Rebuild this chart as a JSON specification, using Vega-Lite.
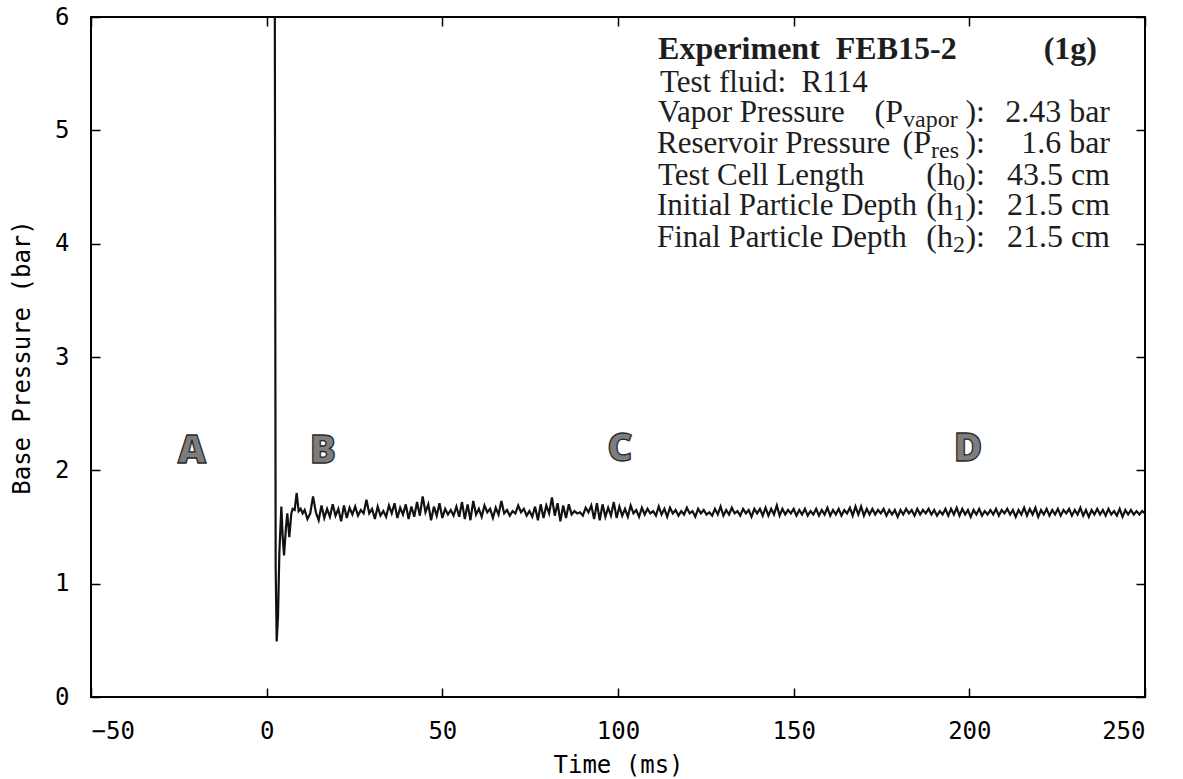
{
  "$schema": "https://vega.github.io/schema/vega-lite/v6.json",
  "width": 1054,
  "height": 680,
  "autosize": {"type": "none"},
  "padding": {"left": 91, "top": 17, "right": 38, "bottom": 82},
  "background": "white",
  "config": {
    "view": {"stroke": "black", "strokeWidth": 2},
    "axis": {
      "domain": false, "grid": false, "tickColor": "black", "tickWidth": 1.5, "tickSize": -9,
      "labelFont": "DejaVu Sans Mono", "labelFontSize": 24, "labelColor": "black", "labelPadding": 31,
      "titleFont": "DejaVu Sans Mono", "titleFontSize": 24, "titleFontWeight": "normal", "titleColor": "black"
    }
  },
  "resolve": {"axis": {"x": "independent", "y": "independent"}},
  "layer": [
    {
      "data": {"values": [
        {"t":2.30,"p":6.5},{"t":2.56,"p":1.15},{"t":2.85,"p":0.49},{"t":3.23,"p":0.71},{"t":3.61,"p":1.27},
        {"t":4.18,"p":1.68},{"t":4.56,"p":1.41},{"t":4.94,"p":1.25},{"t":5.50,"p":1.50},{"t":5.88,"p":1.62},
        {"t":6.45,"p":1.41},{"t":7.02,"p":1.62},{"t":7.40,"p":1.66},{"t":7.97,"p":1.65},{"t":8.54,"p":1.80},
        {"t":9.11,"p":1.64},{"t":9.68,"p":1.66},{"t":10.25,"p":1.62},{"t":10.82,"p":1.65},
        {"t":11.6,"p":1.57},{"t":12.4,"p":1.62},{"t":13.2,"p":1.77},{"t":14.0,"p":1.63},{"t":14.8,"p":1.56},{"t":15.6,"p":1.69},{"t":16.4,"p":1.58},{"t":17.2,"p":1.66},{"t":18.0,"p":1.59},{"t":18.8,"p":1.70},
        {"t":19.6,"p":1.60},{"t":20.4,"p":1.66},{"t":21.2,"p":1.55},{"t":22.0,"p":1.69},{"t":22.8,"p":1.58},{"t":23.6,"p":1.67},{"t":24.4,"p":1.61},{"t":25.2,"p":1.68},{"t":26.0,"p":1.60},{"t":26.8,"p":1.65},
        {"t":27.6,"p":1.62},{"t":28.4,"p":1.74},{"t":29.2,"p":1.62},{"t":30.0,"p":1.66},{"t":30.8,"p":1.57},{"t":31.6,"p":1.68},{"t":32.4,"p":1.60},{"t":33.2,"p":1.64},{"t":34.0,"p":1.59},{"t":34.8,"p":1.69},
        {"t":35.6,"p":1.62},{"t":36.4,"p":1.71},{"t":37.2,"p":1.58},{"t":38.0,"p":1.67},{"t":38.8,"p":1.61},{"t":39.6,"p":1.70},{"t":40.4,"p":1.57},{"t":41.2,"p":1.68},{"t":42.0,"p":1.59},{"t":42.8,"p":1.72},
        {"t":43.6,"p":1.60},{"t":44.4,"p":1.77},{"t":45.2,"p":1.63},{"t":46.0,"p":1.70},{"t":46.8,"p":1.56},{"t":47.6,"p":1.68},{"t":48.4,"p":1.60},{"t":49.2,"p":1.71},{"t":50.0,"p":1.58},
        {"t":50.8,"p":1.66},{"t":51.6,"p":1.61},{"t":52.4,"p":1.65},{"t":53.2,"p":1.60},{"t":54.0,"p":1.68},{"t":54.8,"p":1.59},{"t":55.6,"p":1.72},{"t":56.4,"p":1.57},{"t":57.2,"p":1.70},{"t":58.0,"p":1.56},
        {"t":58.8,"p":1.73},{"t":59.6,"p":1.61},{"t":60.4,"p":1.66},{"t":61.2,"p":1.59},{"t":62.0,"p":1.69},{"t":62.8,"p":1.63},{"t":63.6,"p":1.66},{"t":64.4,"p":1.58},{"t":65.2,"p":1.67},{"t":66.0,"p":1.61},
        {"t":66.8,"p":1.73},{"t":67.6,"p":1.62},{"t":68.4,"p":1.65},{"t":69.2,"p":1.60},{"t":70.0,"p":1.64},{"t":70.8,"p":1.62},{"t":71.6,"p":1.69},{"t":72.4,"p":1.63},{"t":73.2,"p":1.66},{"t":74.0,"p":1.60},
        {"t":74.8,"p":1.64},{"t":75.6,"p":1.59},{"t":76.4,"p":1.68},{"t":77.2,"p":1.56},{"t":78.0,"p":1.70},{"t":78.8,"p":1.58},{"t":79.6,"p":1.69},{"t":80.4,"p":1.62},{"t":81.2,"p":1.76},{"t":82.0,"p":1.60},
        {"t":82.8,"p":1.71},{"t":83.6,"p":1.55},{"t":84.4,"p":1.69},{"t":85.2,"p":1.58},{"t":86.0,"p":1.70},{"t":86.8,"p":1.61},{"t":87.6,"p":1.64},{"t":88.4,"p":1.62},{"t":89.2,"p":1.63},{"t":90.0,"p":1.60},
        {"t":90.8,"p":1.67},{"t":91.6,"p":1.63},{"t":92.4,"p":1.69},{"t":93.2,"p":1.57},{"t":94.0,"p":1.71},{"t":94.8,"p":1.56},{"t":95.6,"p":1.70},{"t":96.4,"p":1.59},{"t":97.2,"p":1.67},{"t":98.0,"p":1.60},
        {"t":98.8,"p":1.72},{"t":99.6,"p":1.58},{"t":100.4,"p":1.68},{"t":101.2,"p":1.60},{"t":102.0,"p":1.66},{"t":102.8,"p":1.59},{"t":103.6,"p":1.69},{"t":104.4,"p":1.62},{"t":105.2,"p":1.65},{"t":106.0,"p":1.59},
        {"t":106.8,"p":1.67},{"t":107.6,"p":1.61},{"t":108.4,"p":1.66},{"t":109.2,"p":1.62},{"t":110.0,"p":1.64},{"t":110.8,"p":1.60},{"t":111.6,"p":1.68},{"t":112.4,"p":1.61},{"t":113.2,"p":1.66},{"t":114.0,"p":1.59},
        {"t":114.8,"p":1.67},{"t":115.6,"p":1.62},{"t":116.4,"p":1.65},{"t":117.2,"p":1.60},{"t":118.0,"p":1.64},{"t":118.8,"p":1.61},{"t":119.6,"p":1.67},{"t":120.4,"p":1.62},{"t":121.2,"p":1.64},{"t":122.0,"p":1.59},
        {"t":122.8,"p":1.66},{"t":123.6,"p":1.62},{"t":124.4,"p":1.65},{"t":125.2,"p":1.61},{"t":126.0,"p":1.63},{"t":126.8,"p":1.60},{"t":127.6,"p":1.66},{"t":128.4,"p":1.61},{"t":129.2,"p":1.68},{"t":130.0,"p":1.60},
        {"t":130.8,"p":1.65},{"t":131.6,"p":1.61},{"t":132.4,"p":1.67},{"t":133.2,"p":1.62},{"t":134.0,"p":1.64},{"t":134.8,"p":1.60},{"t":135.6,"p":1.66},{"t":136.4,"p":1.62},{"t":137.2,"p":1.65},{"t":138.0,"p":1.59},
        {"t":138.8,"p":1.66},{"t":139.6,"p":1.62},
        {"t":140.4,"p":1.66},{"t":141.2,"p":1.60},{"t":142.0,"p":1.67},{"t":142.8,"p":1.60},{"t":143.6,"p":1.66},{"t":144.4,"p":1.61},{"t":145.2,"p":1.69},{"t":146.0,"p":1.60},{"t":146.8,"p":1.66},{"t":147.6,"p":1.61},
        {"t":148.4,"p":1.65},{"t":149.2,"p":1.62},{"t":150.0,"p":1.66},{"t":150.8,"p":1.60},{"t":151.6,"p":1.65},{"t":152.4,"p":1.61},{"t":153.2,"p":1.66},{"t":154.0,"p":1.60},{"t":154.8,"p":1.64},{"t":155.6,"p":1.61},
        {"t":156.4,"p":1.66},{"t":157.2,"p":1.60},{"t":158.0,"p":1.65},{"t":158.8,"p":1.61},{"t":159.6,"p":1.67},{"t":160.4,"p":1.60},{"t":161.2,"p":1.65},{"t":162.0,"p":1.61},{"t":162.8,"p":1.66},{"t":163.6,"p":1.60},
        {"t":164.4,"p":1.65},{"t":165.2,"p":1.62},{"t":166.0,"p":1.67},{"t":166.8,"p":1.60},{"t":167.6,"p":1.68},{"t":168.4,"p":1.61},{"t":169.2,"p":1.68},{"t":170.0,"p":1.60},{"t":170.8,"p":1.66},{"t":171.6,"p":1.61},
        {"t":172.4,"p":1.66},{"t":173.2,"p":1.61},{"t":174.0,"p":1.65},{"t":174.8,"p":1.62},{"t":175.6,"p":1.66},{"t":176.4,"p":1.60},{"t":177.2,"p":1.65},{"t":178.0,"p":1.61},{"t":178.8,"p":1.65},{"t":179.6,"p":1.59},
        {"t":180.4,"p":1.65},{"t":181.2,"p":1.61},{"t":182.0,"p":1.66},{"t":182.8,"p":1.62},{"t":183.6,"p":1.65},{"t":184.4,"p":1.60},{"t":185.2,"p":1.66},{"t":186.0,"p":1.61},{"t":186.8,"p":1.65},{"t":187.6,"p":1.62},
        {"t":188.4,"p":1.66},{"t":189.2,"p":1.61},{"t":190.0,"p":1.65},{"t":190.8,"p":1.60},{"t":191.6,"p":1.64},{"t":192.4,"p":1.61},{"t":193.2,"p":1.66},{"t":194.0,"p":1.60},{"t":194.8,"p":1.66},{"t":195.6,"p":1.61},
        {"t":196.4,"p":1.67},{"t":197.2,"p":1.60},{"t":198.0,"p":1.66},{"t":198.8,"p":1.61},{"t":199.6,"p":1.65},{"t":200.4,"p":1.59},{"t":201.2,"p":1.65},{"t":202.0,"p":1.61},{"t":202.8,"p":1.66},{"t":203.6,"p":1.60},
        {"t":204.4,"p":1.64},{"t":205.2,"p":1.61},{"t":206.0,"p":1.65},{"t":206.8,"p":1.61},{"t":207.6,"p":1.66},{"t":208.4,"p":1.60},{"t":209.2,"p":1.65},{"t":210.0,"p":1.62},{"t":210.8,"p":1.66},{"t":211.6,"p":1.61},
        {"t":212.4,"p":1.65},{"t":213.2,"p":1.59},{"t":214.0,"p":1.65},{"t":214.8,"p":1.61},{"t":215.6,"p":1.67},{"t":216.4,"p":1.60},{"t":217.2,"p":1.66},{"t":218.0,"p":1.61},{"t":218.8,"p":1.67},{"t":219.6,"p":1.59},
        {"t":220.4,"p":1.65},{"t":221.2,"p":1.61},{"t":222.0,"p":1.66},{"t":222.8,"p":1.60},{"t":223.6,"p":1.65},{"t":224.4,"p":1.61},{"t":225.2,"p":1.66},{"t":226.0,"p":1.60},{"t":226.8,"p":1.65},{"t":227.6,"p":1.62},
        {"t":228.4,"p":1.66},{"t":229.2,"p":1.60},{"t":230.0,"p":1.65},{"t":230.8,"p":1.61},{"t":231.6,"p":1.67},{"t":232.4,"p":1.60},{"t":233.2,"p":1.65},{"t":234.0,"p":1.59},{"t":234.8,"p":1.65},{"t":235.6,"p":1.61},
        {"t":236.4,"p":1.66},{"t":237.2,"p":1.61},{"t":238.0,"p":1.65},{"t":238.8,"p":1.60},{"t":239.6,"p":1.66},{"t":240.4,"p":1.61},{"t":241.2,"p":1.64},{"t":242.0,"p":1.60},{"t":242.8,"p":1.66},{"t":243.6,"p":1.59},
        {"t":244.4,"p":1.65},{"t":245.2,"p":1.61},{"t":246.0,"p":1.65},{"t":246.8,"p":1.61},{"t":247.6,"p":1.64},{"t":248.4,"p":1.61},{"t":249.2,"p":1.64},{"t":250.0,"p":1.62}
      ]},
      "mark": {"type": "line", "color": "#111", "strokeWidth": 2.2, "clip": true},
      "encoding": {
        "x": {"field": "t", "type": "quantitative", "sort": null,
              "scale": {"domain": [-50, 250], "nice": false, "zero": false},
              "axis": {"orient": "bottom", "values": [-50, 0, 50, 100, 150, 200, 250], "title": "Time (ms)", "titlePadding": 10}},
        "y": {"field": "p", "type": "quantitative",
              "scale": {"domain": [0, 6], "nice": false},
              "axis": {"orient": "left", "values": [0, 1, 2, 3, 4, 5, 6], "title": "Base Pressure (bar)", "titlePadding": 20}},
        "order": {"field": "t", "type": "quantitative"}
      }
    },
    {
      "data": {"values": [
        {"t": -21.25, "p": 2.17, "label": "A"},
        {"t": 16.03, "p": 2.17, "label": "B"},
        {"t": 100.57, "p": 2.19, "label": "C"},
        {"t": 199.62, "p": 2.19, "label": "D"}
      ]},
      "mark": {"type": "text", "font": "Open Sans", "fontWeight": 800, "fontSize": 39, "fill": "#7d7d7d", "stroke": "#2a2a2a", "strokeWidth": 1.3, "align": "center", "baseline": "middle"},
      "encoding": {
        "x": {"field": "t", "type": "quantitative",
              "axis": {"orient": "top", "values": [-50, 0, 50, 100, 150, 200, 250], "labels": false, "title": null}},
        "y": {"field": "p", "type": "quantitative",
              "axis": {"orient": "right", "values": [0, 1, 2, 3, 4, 5, 6], "labels": false, "title": null}},
        "text": {"field": "label"}
      }
    },
    {
      "data": {"values": [
        {"t": 111.4, "p": 5.629, "label": "Experiment\u00a0\u00a0FEB15-2"}
      ]},
      "mark": {"type": "text", "font": "Liberation Serif", "fontWeight": "bold", "fontSize": 32, "color": "#1e1e1e", "align": "left", "baseline": "alphabetic"},
      "encoding": {
        "x": {"field": "t", "type": "quantitative", "axis": null},
        "y": {"field": "p", "type": "quantitative", "axis": null},
        "text": {"field": "label"}
      }
    },
    {
      "data": {"values": [
        {"t": 236.34, "p": 5.629, "label": "(1g)"}
      ]},
      "mark": {"type": "text", "font": "Liberation Serif", "fontWeight": "bold", "fontSize": 32, "color": "#1e1e1e", "align": "right", "baseline": "alphabetic"},
      "encoding": {
        "x": {"field": "t", "type": "quantitative", "axis": null},
        "y": {"field": "p", "type": "quantitative", "axis": null},
        "text": {"field": "label"}
      }
    },
    {
      "data": {"values": [
        {"t": 111.95, "p": 5.338, "label": "Test fluid:\u00a0\u00a0R114"},
        {"t": 111.4, "p": 5.074, "label": "Vapor Pressure"},
        {"t": 111.1, "p": 4.800, "label": "Reservoir Pressure"},
        {"t": 111.4, "p": 4.518, "label": "Test Cell Length"},
        {"t": 111.1, "p": 4.253, "label": "Initial Particle Depth"},
        {"t": 111.1, "p": 3.971, "label": "Final Particle Depth"}
      ]},
      "mark": {"type": "text", "font": "Liberation Serif", "fontSize": 31, "color": "#1e1e1e", "align": "left", "baseline": "alphabetic"},
      "encoding": {
        "x": {"field": "t", "type": "quantitative", "axis": null},
        "y": {"field": "p", "type": "quantitative", "axis": null},
        "text": {"field": "label"}
      }
    },
    {
      "data": {"values": [
        {"t": 181.12, "p": 5.074, "label": "(P"},
        {"t": 204.46, "p": 5.074, "label": "):"},
        {"t": 240.04, "p": 5.074, "label": "2.43 bar"},
        {"t": 189.09, "p": 4.800, "label": "(P"},
        {"t": 204.46, "p": 4.800, "label": "):"},
        {"t": 240.04, "p": 4.800, "label": "1.6 bar"},
        {"t": 195.35, "p": 4.518, "label": "(h"},
        {"t": 204.46, "p": 4.518, "label": "):"},
        {"t": 240.04, "p": 4.518, "label": "43.5 cm"},
        {"t": 195.35, "p": 4.253, "label": "(h"},
        {"t": 204.46, "p": 4.253, "label": "):"},
        {"t": 240.04, "p": 4.253, "label": "21.5 cm"},
        {"t": 195.35, "p": 3.971, "label": "(h"},
        {"t": 204.46, "p": 3.971, "label": "):"},
        {"t": 240.04, "p": 3.971, "label": "21.5 cm"}
      ]},
      "mark": {"type": "text", "font": "Liberation Serif", "fontSize": 32, "color": "#1e1e1e", "align": "right", "baseline": "alphabetic"},
      "encoding": {
        "x": {"field": "t", "type": "quantitative", "axis": null},
        "y": {"field": "p", "type": "quantitative", "axis": null},
        "text": {"field": "label"}
      }
    },
    {
      "data": {"values": [
        {"t": 181.12, "p": 5.074, "label": "vapor"},
        {"t": 189.09, "p": 4.800, "label": "res"},
        {"t": 195.35, "p": 4.518, "label": "0"},
        {"t": 195.35, "p": 4.253, "label": "1"},
        {"t": 195.35, "p": 3.971, "label": "2"}
      ]},
      "mark": {"type": "text", "font": "Liberation Serif", "fontSize": 24, "color": "#1e1e1e", "align": "left", "baseline": "alphabetic", "dy": 5},
      "encoding": {
        "x": {"field": "t", "type": "quantitative", "axis": null},
        "y": {"field": "p", "type": "quantitative", "axis": null},
        "text": {"field": "label"}
      }
    }
  ]
}
